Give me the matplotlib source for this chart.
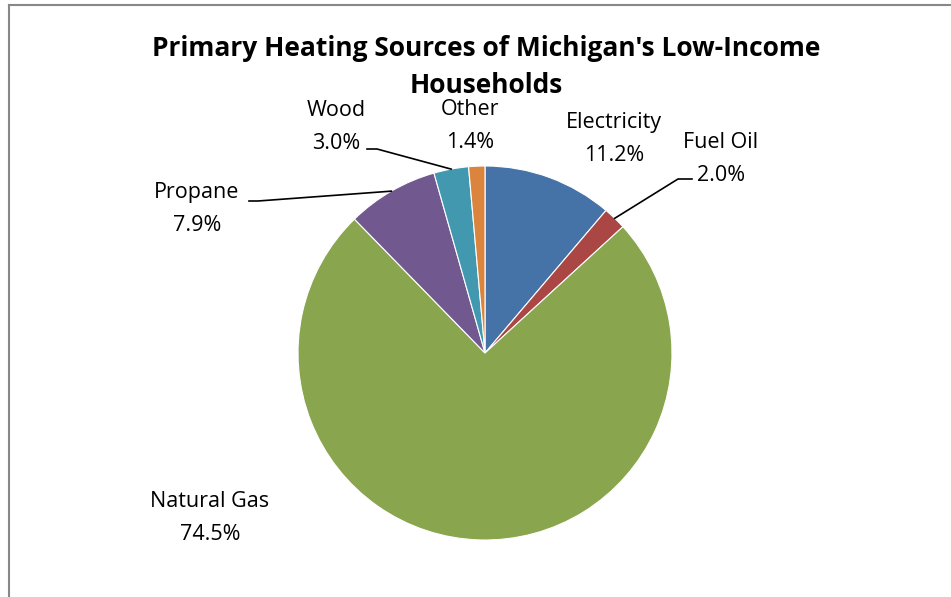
import numpy as np
import matplotlib.pyplot as plt
from matplotlib.lines import Line2D

labels = ["Electricity", "Fuel Oil", "Natural Gas", "Propane", "Wood", "Other"]
shares = [11.2, 2.0, 74.5, 7.9, 3.0, 1.4]
colors = ["#4572A7", "#AA4643", "#89A54E", "#71588F", "#4198AF", "#DB843D"]
title = "Primary Heating Sources of Michigan's Low-Income\nHouseholds"

plt.rcParams['font.family'] = ['Open Sans', 'DejaVu Sans']

W, H = 951, 597
fig = plt.figure(figsize=(W / 100, H / 100), dpi=100)
ax = fig.add_axes([0, 0, 1, 1])

# pixel coords, y measured from the bottom
cx, cy, r = 485, H - 353, 187
wedges, _ = ax.pie(shares, colors=colors, startangle=90, counterclock=False,
                   center=(cx, cy), radius=r,
                   wedgeprops=dict(edgecolor="white", linewidth=0.8))
ax.set_xlim(0, W)
ax.set_ylim(0, H)
ax.set_aspect("equal")
ax.axis("off")

# label centres (pixels from top-left) and optional leader elbow
label_pos = {
    "Electricity": (614, 139),
    "Fuel Oil": (721, 159),
    "Natural Gas": (210, 518),
    "Propane": (197, 209),
    "Wood": (336, 127),
    "Other": (470, 126),
}
leaders = {
    "Fuel Oil": [(692, 179), (678, 179)],
    "Propane": [(249, 201), (258, 201)],
    "Wood": [(367, 149), (377, 149)],
}

for w, name, val in zip(wedges, labels, shares):
    x, y = label_pos[name]
    ax.text(x, H - y, f"{name}\n{val:.1f}%", ha="center", va="center",
            fontsize=15.5, color="#000000", linespacing=1.75)
    if name in leaders:
        ang = np.deg2rad((w.theta1 + w.theta2) / 2)
        px, py = cx + r * np.cos(ang), cy + r * np.sin(ang)
        pts = leaders[name]
        xs = [p[0] for p in pts] + [px]
        ys = [H - p[1] for p in pts] + [py]
        ax.plot(xs, ys, color="black", lw=1.2)

fig.text(486 / W, 1 - 67 / H, title, ha="center", va="center",
         fontsize=19, fontweight="bold", linespacing=1.5)

# chart border (only top and left visible in the crop)
fig.add_artist(Line2D([9 / W, 9 / W], [0, 1 - 5 / H], transform=fig.transFigure,
                      color="#888888", lw=1.5))
fig.add_artist(Line2D([9 / W, 1], [1 - 5 / H, 1 - 5 / H], transform=fig.transFigure,
                      color="#888888", lw=1.5))

fig.savefig("out.png", dpi=100)
